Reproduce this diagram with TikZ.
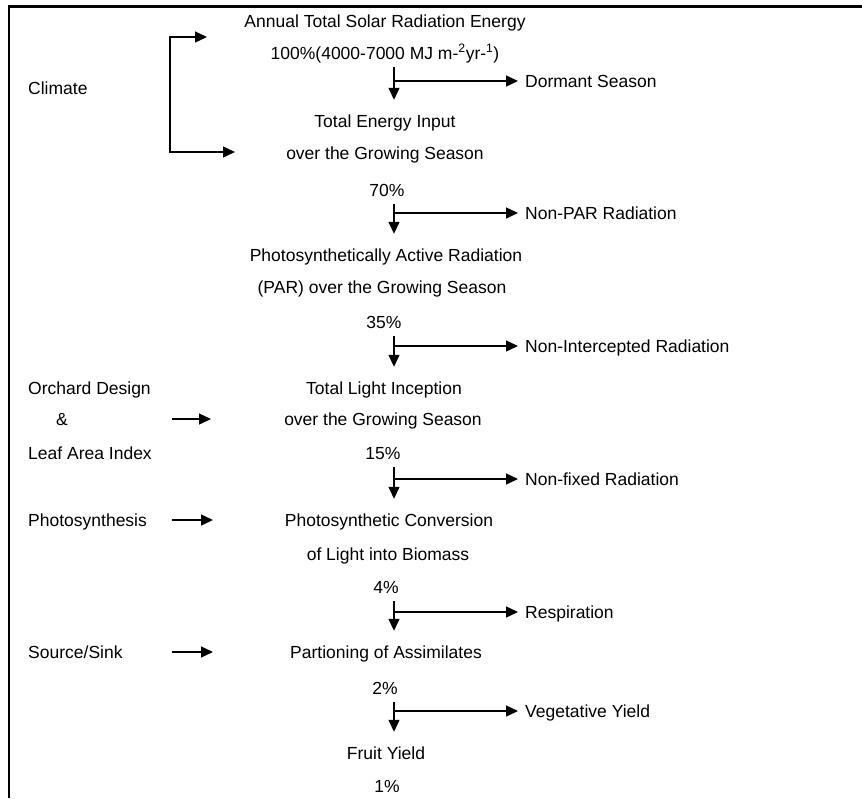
\documentclass[tikz,border=0pt]{standalone}
\usepackage{fontspec}
\setmainfont{Liberation Sans}
\usepackage{xcolor}
\usepackage{tikz}
\usetikzlibrary{arrows.meta}
\definecolor{ink}{HTML}{000000}

\begin{document}
\begin{tikzpicture}[x=1pt,y=-1pt,
    lbl/.style={inner sep=0pt, text height=13pt, text depth=4pt, text=ink,
      font=\fontsize{17.5}{21}\selectfont},
    mid/.style={lbl, anchor=base},
    side/.style={lbl, anchor=base west},
    flow/.style={ink, line width=1.4pt, -{Triangle[length=12pt,width=11pt]}},
    frame/.style={ink, line width=2.4pt}]
  \useasboundingbox (0,0) rectangle (862,798);
  \draw[frame] (9,798) -- (9,6.5) -- (862,6.5);

  % main column
  \node[mid] (sol) at (385,27) {Annual Total Solar Radiation Energy};
  \node[mid] (p100) at (385,59) {100\%(4000-7000 MJ m-\textsuperscript{2}yr-\textsuperscript{1})};
  \node[mid] (tei) at (385,127) {Total Energy Input};
  \node[mid] (tei2) at (385,159) {over the Growing Season};
  \node[mid] (p70) at (387,196) {70\%};
  \node[mid] (par) at (386,261) {Photosynthetically Active Radiation};
  \node[mid] (par2) at (382,293) {(PAR) over the Growing Season};
  \node[mid] (p35) at (384,328) {35\%};
  \node[mid] (tli) at (384,394) {Total Light Inception};
  \node[mid] (tli2) at (383,425) {over the Growing Season};
  \node[mid] (p15) at (383,459) {15\%};
  \node[mid] (pc) at (389,526) {Photosynthetic Conversion};
  \node[mid] (bio) at (388,560) {of Light into Biomass};
  \node[mid] (p4) at (386,593) {4\%};
  \node[mid] (asm) at (386,658) {Partioning of Assimilates};
  \node[mid] (p2) at (385,694) {2\%};
  \node[mid] (fy) at (386,759) {Fruit Yield};
  \node[mid] (p1) at (387,792) {1\%};

  % losses
  \node[side] (dor) at (525,87) {Dormant Season};
  \node[side] (npar) at (525,219) {Non-PAR Radiation};
  \node[side] (nint) at (525,352) {Non-Intercepted Radiation};
  \node[side] (nfix) at (525,485) {Non-fixed Radiation};
  \node[side] (resp) at (525,618) {Respiration};
  \node[side] (veg) at (525,717) {Vegetative Yield};

  % factors
  \node[side] (clim) at (28,94) {Climate};
  \node[side] (orch) at (28,394) {Orchard Design};
  \node[mid] (amp) at (62,425) {\&};
  \node[side] (lai) at (28,459) {Leaf Area Index};
  \node[side] (phs) at (28,526) {Photosynthesis};
  \node[side] (src) at (28,658) {Source/Sink};

  \coordinate (b1) at (394,81);
  \coordinate (b2) at (394,213);
  \coordinate (b3) at (394,346);
  \coordinate (b4) at (394,479);
  \coordinate (b5) at (394,612);
  \coordinate (b6) at (394,711);

  \draw[flow, shorten <=4pt, shorten >=14pt] (p100.south -| b1) -- (tei.north -| b1);
  \draw[flow, shorten <=4pt, shorten >=14pt] (p70.south -| b2) -- (par.north -| b2);
  \draw[flow, shorten <=4pt, shorten >=14pt] (p35.south -| b3) -- (tli.north -| b3);
  \draw[flow, shorten <=4pt, shorten >=14pt] (p15.south -| b4) -- (pc.north -| b4);
  \draw[flow, shorten <=4pt, shorten >=14pt] (p4.south -| b5) -- (asm.north -| b5);
  \draw[flow, shorten <=4pt, shorten >=14pt] (p2.south -| b6) -- (fy.north -| b6);

  \draw[flow, shorten >=7pt] (b1) -- (b1 -| dor.west);
  \draw[flow, shorten >=7pt] (b2) -- (b2 -| npar.west);
  \draw[flow, shorten >=7pt] (b3) -- (b3 -| nint.west);
  \draw[flow, shorten >=7pt] (b4) -- (b4 -| nfix.west);
  \draw[flow, shorten >=7pt] (b5) -- (b5 -| resp.west);
  \draw[flow, shorten >=7pt] (b6) -- (b6 -| veg.west);

  % climate bracket and factor arrows
  \coordinate (cbar) at (170,95);
  \coordinate (ctop) at (207,37);
  \coordinate (cbot) at (235,152);
  \draw[flow] (cbar) |- (ctop);
  \draw[flow] (cbar) |- (cbot);
  \coordinate (or1) at (172,419);
  \coordinate (or2) at (211,419);
  \draw[flow] (or1) -- (or2);
  \coordinate (ph1) at (172,520);
  \coordinate (ph2) at (213,520);
  \draw[flow] (ph1) -- (ph2);
  \coordinate (sr1) at (172,652);
  \coordinate (sr2) at (213,652);
  \draw[flow] (sr1) -- (sr2);
\end{tikzpicture}
\end{document}
